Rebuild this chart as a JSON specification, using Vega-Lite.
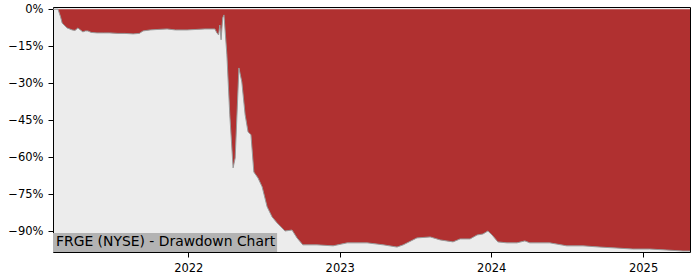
{
  "$schema": "https://vega.github.io/schema/vega-lite/v6.json",
  "width": 637,
  "height": 245,
  "autosize": {"type": "none"},
  "padding": {"left": 53, "top": 7, "right": 10, "bottom": 28},
  "background": "white",
  "config": {
    "view": {"fill": "#ececec", "stroke": "black", "strokeWidth": 1},
    "axis": {
      "domain": false, "grid": false, "tickColor": "black", "tickSize": 5,
      "labelColor": "black", "labelFont": "DejaVu Sans", "labelFontSize": 11.5,
      "labelPadding": 4, "title": null
    },
    "text": {"font": "DejaVu Sans"}
  },
  "data": {"values": [
    {"date": "2021-02-09", "dd": 0},
    {"date": "2021-02-21", "dd": 0},
    {"date": "2021-02-27", "dd": -3.0},
    {"date": "2021-03-03", "dd": -5.6},
    {"date": "2021-03-10", "dd": -6.8},
    {"date": "2021-03-15", "dd": -7.6},
    {"date": "2021-03-27", "dd": -8.4},
    {"date": "2021-04-03", "dd": -8.6},
    {"date": "2021-04-10", "dd": -7.6},
    {"date": "2021-04-16", "dd": -8.4},
    {"date": "2021-04-22", "dd": -9.2},
    {"date": "2021-04-28", "dd": -8.8},
    {"date": "2021-05-04", "dd": -8.8},
    {"date": "2021-05-12", "dd": -9.4},
    {"date": "2021-05-26", "dd": -9.6},
    {"date": "2021-06-10", "dd": -9.6},
    {"date": "2021-06-26", "dd": -9.6},
    {"date": "2021-07-15", "dd": -9.8},
    {"date": "2021-08-01", "dd": -9.8},
    {"date": "2021-08-21", "dd": -10.0},
    {"date": "2021-09-05", "dd": -9.8},
    {"date": "2021-09-14", "dd": -8.8},
    {"date": "2021-10-01", "dd": -8.4},
    {"date": "2021-10-20", "dd": -8.2},
    {"date": "2021-11-11", "dd": -8.0},
    {"date": "2021-12-01", "dd": -8.4},
    {"date": "2021-12-29", "dd": -8.4},
    {"date": "2022-01-20", "dd": -8.2},
    {"date": "2022-02-10", "dd": -8.0},
    {"date": "2022-03-06", "dd": -8.0},
    {"date": "2022-03-11", "dd": -9.6},
    {"date": "2022-03-15", "dd": -10.4},
    {"date": "2022-03-18", "dd": -6.4},
    {"date": "2022-03-21", "dd": -12.4},
    {"date": "2022-03-25", "dd": -3.5},
    {"date": "2022-03-28", "dd": -2.3},
    {"date": "2022-04-04", "dd": -18.5},
    {"date": "2022-04-11", "dd": -42.8},
    {"date": "2022-04-19", "dd": -64.3},
    {"date": "2022-04-24", "dd": -60.3},
    {"date": "2022-05-03", "dd": -23.8},
    {"date": "2022-05-10", "dd": -29.5},
    {"date": "2022-05-18", "dd": -42.8},
    {"date": "2022-05-25", "dd": -49.7},
    {"date": "2022-06-01", "dd": -50.9},
    {"date": "2022-06-08", "dd": -66.0},
    {"date": "2022-06-18", "dd": -68.4},
    {"date": "2022-06-28", "dd": -72.0},
    {"date": "2022-07-10", "dd": -80.1},
    {"date": "2022-07-22", "dd": -84.2},
    {"date": "2022-08-03", "dd": -86.6},
    {"date": "2022-08-22", "dd": -89.9},
    {"date": "2022-09-08", "dd": -89.5},
    {"date": "2022-09-20", "dd": -92.7},
    {"date": "2022-10-04", "dd": -95.5},
    {"date": "2022-11-07", "dd": -95.5},
    {"date": "2022-12-16", "dd": -95.9},
    {"date": "2023-01-19", "dd": -94.7},
    {"date": "2023-03-08", "dd": -94.7},
    {"date": "2023-04-16", "dd": -95.5},
    {"date": "2023-05-19", "dd": -96.4},
    {"date": "2023-06-03", "dd": -95.5},
    {"date": "2023-07-06", "dd": -92.7},
    {"date": "2023-08-07", "dd": -92.3},
    {"date": "2023-08-31", "dd": -93.5},
    {"date": "2023-10-01", "dd": -94.3},
    {"date": "2023-10-18", "dd": -93.1},
    {"date": "2023-11-11", "dd": -93.1},
    {"date": "2023-11-28", "dd": -91.5},
    {"date": "2023-12-12", "dd": -91.1},
    {"date": "2023-12-24", "dd": -89.9},
    {"date": "2024-01-03", "dd": -91.5},
    {"date": "2024-01-17", "dd": -94.3},
    {"date": "2024-02-08", "dd": -94.7},
    {"date": "2024-03-03", "dd": -94.7},
    {"date": "2024-03-22", "dd": -93.9},
    {"date": "2024-04-03", "dd": -94.7},
    {"date": "2024-05-21", "dd": -94.7},
    {"date": "2024-07-01", "dd": -95.9},
    {"date": "2024-08-09", "dd": -95.9},
    {"date": "2024-09-19", "dd": -96.4},
    {"date": "2024-10-30", "dd": -96.8},
    {"date": "2024-12-07", "dd": -97.2},
    {"date": "2025-01-17", "dd": -97.2},
    {"date": "2025-02-27", "dd": -97.6},
    {"date": "2025-04-07", "dd": -98.0},
    {"date": "2025-04-24", "dd": -98.0}
  ]},
  "layer": [
    {
      "mark": {"type": "area", "color": "#b03030", "interpolate": "linear"},
      "encoding": {
        "x": {
          "field": "date", "type": "temporal",
          "scale": {"type": "utc", "nice": false,
            "domain": [{"year": 2021, "month": 2, "date": 9, "utc": true}, {"year": 2025, "month": 4, "date": 24, "utc": true}]},
          "axis": {"format": "%Y", "tickCount": {"interval": "year", "step": 1}, "labelPadding": 5}
        },
        "y": {
          "field": "dd", "type": "quantitative",
          "scale": {"domain": [-98.4, 0.9], "nice": false, "zero": false},
          "axis": {"values": [0, -15, -30, -45, -60, -75, -90],
            "labelExpr": "(datum.value < 0 ? '\u2212' + abs(datum.value) : datum.value) + '%'",
            "labelPadding": 5}
        },
        "y2": {"datum": 0}
      }
    },
    {
      "mark": {"type": "line", "color": "#999999", "strokeWidth": 1},
      "encoding": {
        "x": {"field": "date", "type": "temporal"},
        "y": {"field": "dd", "type": "quantitative"}
      }
    },
    {
      "data": {"values": [{"label": "FRGE (NYSE) - Drawdown Chart"}]},
      "mark": {"type": "rect", "color": "#b3b3b3"},
      "encoding": {
        "x": {"datum": {"year": 2021, "month": 2, "date": 9, "utc": true}, "type": "temporal"},
        "x2": {"datum": {"year": 2022, "month": 8, "date": 3, "utc": true}},
        "y": {"datum": -98.4, "type": "quantitative"},
        "y2": {"datum": -90.7}
      }
    },
    {
      "data": {"values": [{"label": "FRGE (NYSE) - Drawdown Chart"}]},
      "mark": {"type": "text", "align": "left", "baseline": "middle", "dx": 3, "fontSize": 13.9, "color": "black"},
      "encoding": {
        "x": {"datum": {"year": 2021, "month": 2, "date": 9, "utc": true}, "type": "temporal"},
        "y": {"datum": -94.4, "type": "quantitative"},
        "text": {"field": "label"}
      }
    }
  ]
}
